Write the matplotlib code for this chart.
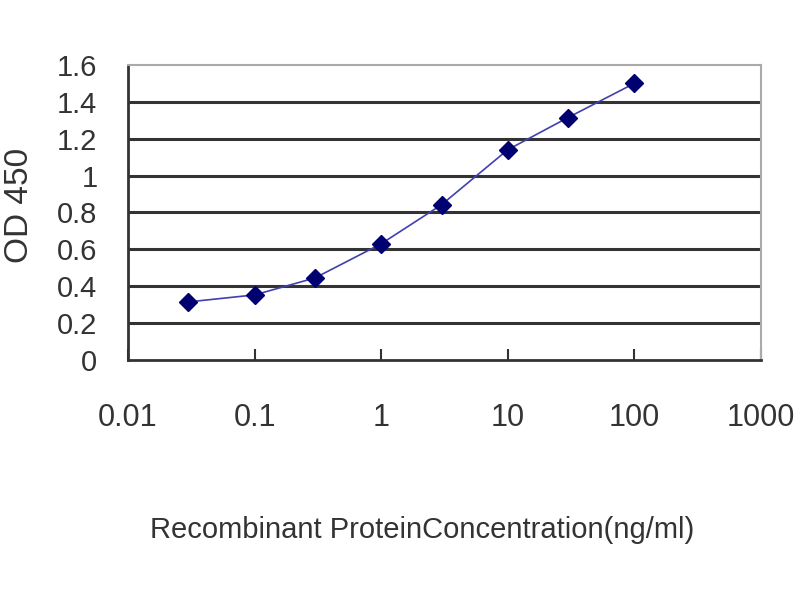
import matplotlib
matplotlib.use("Agg")
import matplotlib.pyplot as plt

plt.rcParams['font.family'] = ['Liberation Sans', 'DejaVu Sans']

# concentration (ng/ml) and OD 450 readings
conc = [0.03, 0.1, 0.3, 1, 3, 10, 30, 100]
od450 = [0.315, 0.353, 0.445, 0.63, 0.842, 1.14, 1.315, 1.50]

x_ticks = [0.01, 0.1, 1, 10, 100, 1000]
x_labels = ['0.01', '0.1', '1', '10', '100', '1000']
y_ticks = [0, 0.2, 0.4, 0.6, 0.8, 1.0, 1.2, 1.4, 1.6]
y_labels = ['0', '0.2', '0.4', '0.6', '0.8', '1', '1.2', '1.4', '1.6']

fig = plt.figure(figsize=(8, 6), dpi=100)
ax = fig.add_axes([0.16, 0.4, 0.791, 0.4917])

for yv in y_ticks[1:-1]:
    ax.axhline(yv, color='#333333', lw=2.2, zorder=1)

ax.plot(conc, od450, color='#4040b0', lw=1.2, zorder=2)
ax.plot(conc, od450, linestyle='none', marker='D', markersize=9,
        color='#000070', zorder=3)

ax.set_xscale('log')
ax.set_xlim(0.01, 1000)
ax.set_ylim(0, 1.6)
ax.set_xticks(x_ticks)
ax.set_xticklabels(x_labels, fontsize=22, color='#333333')
ax.minorticks_off()
ax.set_yticks(y_ticks)
ax.set_yticklabels(y_labels, fontsize=21, color='#333333')

ax.tick_params(axis='x', direction='in', length=8, width=1.5, color='#333333', pad=31)
ax.tick_params(axis='y', length=0, pad=22)

for side in ['left', 'bottom']:
    ax.spines[side].set_color('#333333')
    ax.spines[side].set_linewidth(2)
for side in ['top', 'right']:
    ax.spines[side].set_color('#aaaaaa')
    ax.spines[side].set_linewidth(1.5)

fig.text(0.024, 0.657, 'OD 450', rotation=90, ha='center', va='center',
         fontsize=24, color='#333333')
fig.text(0.528, 0.117, 'Recombinant ProteinConcentration(ng/ml)',
         ha='center', va='center', fontsize=21, color='#333333')

fig.savefig('out.png', dpi=100)
